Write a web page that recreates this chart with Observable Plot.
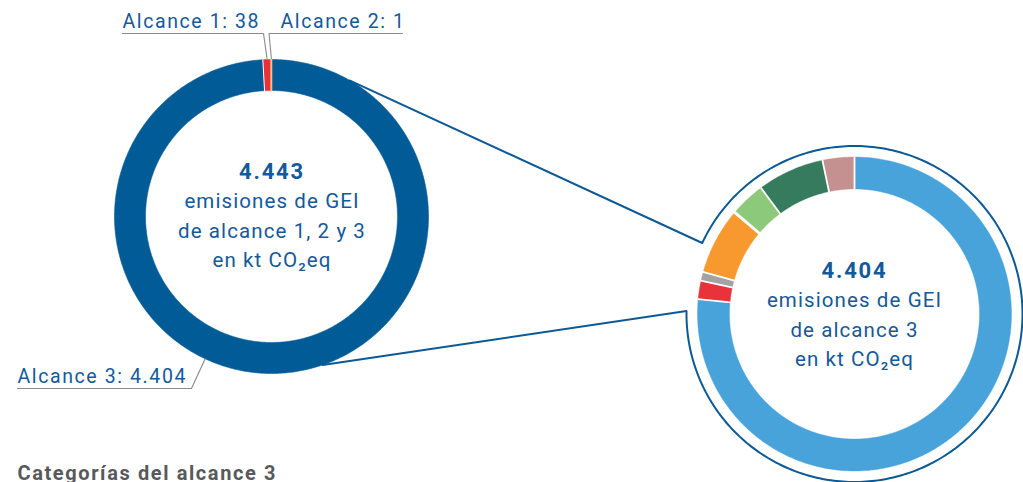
<!DOCTYPE html>
<html>
<head>
<meta charset="utf-8">
<script src="https://cdn.jsdelivr.net/npm/d3@7"></script>
<script src="https://cdn.jsdelivr.net/npm/@observablehq/plot@0.6"></script>
<style>
  html, body { margin: 0; padding: 0; background: #ffffff; }
  #chart { width: 1023px; height: 482px; overflow: hidden; }
</style>
</head>
<body>
<div id="chart"></div>
<script>
// ---------------- DATA ----------------
const alcances = ["Alcance 1", "Alcance 2", "Alcance 3"];
const alcanceValues = [38, 1, 4404];

const categorias = [
  "Categoría A", "Categoría B", "Categoría C", "Categoría D",
  "Categoría E", "Categoría F", "Categoría G", "Categoría H"
];
const categoriaValues = [3369, 84, 40, 300, 6, 158, 303, 144];

const tituloCategorias = "Categorías del alcance 3";
const textoCentro1 = ["emisiones de GEI", "de alcance 1, 2 y 3", "en kt CO₂eq"];
const textoCentro2 = ["emisiones de GEI", "de alcance 3", "en kt CO₂eq"];

// ---------------- STYLE / LAYOUT ----------------
const alcanceColors = ["#e8323a", "#f6c07e", "#005b96"];
const categoriaColors = ["#48a3da", "#e8333b", "#a3a3a3", "#f7992f", "#d8d8d8", "#8dc97b", "#367b5e", "#c49190"];
const darkBlue = "#0b5a96";
const textBlue = "#14599a";
const greyLine = "#8a8a8a";

const W = 1023, H = 482;
const left = {cx: 271, cy: 216, r0: 126, r1: 157};
const right = {cx: 854, cy: 313.5, r0: 125, r1: 157, rOutline: 168};

const locale = d3.formatLocale({decimal: ",", thousands: ".", grouping: [3], currency: ["", ""]});
const fmt = locale.format(",d");
const rad = (deg) => deg * Math.PI / 180;
const pt = (c, r, a) => [c.cx + r * Math.sin(a), c.cy - r * Math.cos(a)];

// Build ring slice polygons (angles clockwise from 12 o'clock)
function ring(values, names, colors, c, order) {
  const total = d3.sum(values);
  const polys = [], seps = [], mids = {};
  let a = 0;
  for (const i of order) {
    const a0 = a, a1 = a + values[i] / total * 2 * Math.PI;
    a = a1;
    const n = Math.max(2, Math.ceil((a1 - a0) / (Math.PI / 360)));
    const poly = [];
    for (let k = 0; k <= n; k++) poly.push(pt(c, c.r1, a0 + (a1 - a0) * k / n));
    for (let k = n; k >= 0; k--) poly.push(pt(c, c.r0, a0 + (a1 - a0) * k / n));
    poly.push(poly[0]);
    for (const [x, y] of poly) polys.push({name: names[i], color: colors[i], x, y});
    const [x1, y1] = pt(c, c.r0 - 0.5, a0), [x2, y2] = pt(c, c.r1 + 0.5, a0);
    seps.push({x1, y1, x2, y2});
    mids[names[i]] = (a0 + a1) / 2;
  }
  return {polys, seps, mids};
}

const L = ring(alcanceValues, alcances, alcanceColors, left, [2, 0, 1]);
const R = ring(categoriaValues, categorias, categoriaColors, right, d3.range(categoriaValues.length));

// Callout outline: connectors + circle around right ring
const outline = [];
outline.push(pt(left, left.r1, rad(30)));
for (let d = 295; d <= 360 + 271; d += 1) outline.push(pt(right, right.rOutline, rad(d)));
outline.push(pt(left, left.r1, rad(161)));
const outlinePts = outline.map(([x, y]) => ({x, y}));

// Labels with leader lines
const a1Tip = pt(left, left.r1 + 1, L.mids["Alcance 1"]);
const a2Tip = pt(left, left.r1 + 1, L.mids["Alcance 2"]);
const a3Tip = pt(left, left.r1, rad(205));
const leaders = [
  {id: 1, pts: [[122, 33], [263, 33], a1Tip]},
  {id: 2, pts: [[402, 33], [268.5, 33], a2Tip]},
  {id: 3, pts: [[17, 388], [191, 388], a3Tip]}
].flatMap(d => d.pts.map(([x, y]) => ({id: d.id, x, y})));

const labels = [
  {x: 122, y: 27, t: `${alcances[0]}: ${fmt(alcanceValues[0])}`},
  {x: 280, y: 27, t: `${alcances[1]}: ${fmt(alcanceValues[1])}`},
  {x: 17, y: 382, t: `${alcances[2]}: ${fmt(alcanceValues[2])}`}
];

const centers = [
  {x: left.cx + 0.5, y: 178, big: fmt(d3.sum(alcanceValues)), lines: textoCentro1},
  {x: right.cx, y: 277, big: fmt(d3.sum(categoriaValues)), lines: textoCentro2}
];
const centerLines = centers.flatMap(c => c.lines.map((t, i) => ({x: c.x, y: c.y + 29.5 * (i + 1), t})));

const svg = Plot.plot({
  width: W,
  height: H,
  margin: 0,
  x: {domain: [0, W], range: [0, W], axis: null},
  y: {domain: [0, H], range: [0, H], axis: null},
  color: {type: "identity"},
  style: {fontFamily: "Roboto, 'Liberation Sans', sans-serif", background: "white", letterSpacing: "1.1px"},
  marks: [
    // callout outline
    Plot.line(outlinePts, {x: "x", y: "y", stroke: darkBlue, strokeWidth: 2, curve: "linear"}),
    // left ring
    Plot.line(L.polys, {x: "x", y: "y", z: "name", fill: "color", stroke: "color", strokeWidth: 0.6}),
    Plot.link(L.seps, {x1: "x1", y1: "y1", x2: "x2", y2: "y2", stroke: "white", strokeWidth: 1}),
    Plot.line(L.polys.filter(d => d.name === "Alcance 2"), {x: "x", y: "y", fill: "color", stroke: "color", strokeWidth: 1.6}),
    // right ring
    Plot.line(R.polys, {x: "x", y: "y", z: "name", fill: "color", stroke: "color", strokeWidth: 0.4}),
    Plot.link(R.seps, {x1: "x1", y1: "y1", x2: "x2", y2: "y2", stroke: "white", strokeWidth: 1.8}),
    // leader lines
    Plot.line(leaders, {x: "x", y: "y", z: "id", stroke: greyLine, strokeWidth: 1.1}),
    // labels
    Plot.text(labels, {x: "x", y: "y", text: "t", textAnchor: "start", lineAnchor: "bottom", fill: textBlue, fontSize: 19.5, letterSpacing: "1.6px"}),
    // center numbers
    Plot.text(centers, {x: "x", y: "y", text: "big", lineAnchor: "bottom", fill: textBlue, fontSize: 22, fontWeight: "bold"}),
    Plot.text(centerLines, {x: "x", y: "y", text: "t", lineAnchor: "bottom", fill: textBlue, fontSize: 20.5}),
    // bottom heading
    Plot.text([tituloCategorias], {x: () => 17, y: () => 479, text: d => d, textAnchor: "start", lineAnchor: "bottom", fill: "#58595b", fontSize: 20, fontWeight: "bold"})
  ]
});

// per-mark letter spacing tweaks
const groups = svg.querySelectorAll("g[aria-label='text']");
if (groups[0]) groups[0].style.letterSpacing = "1.6px";
if (groups[1]) groups[1].style.letterSpacing = "1.8px";
if (groups[3]) groups[3].style.letterSpacing = "1.6px";

document.getElementById("chart").appendChild(svg);
</script>
</body>
</html>
